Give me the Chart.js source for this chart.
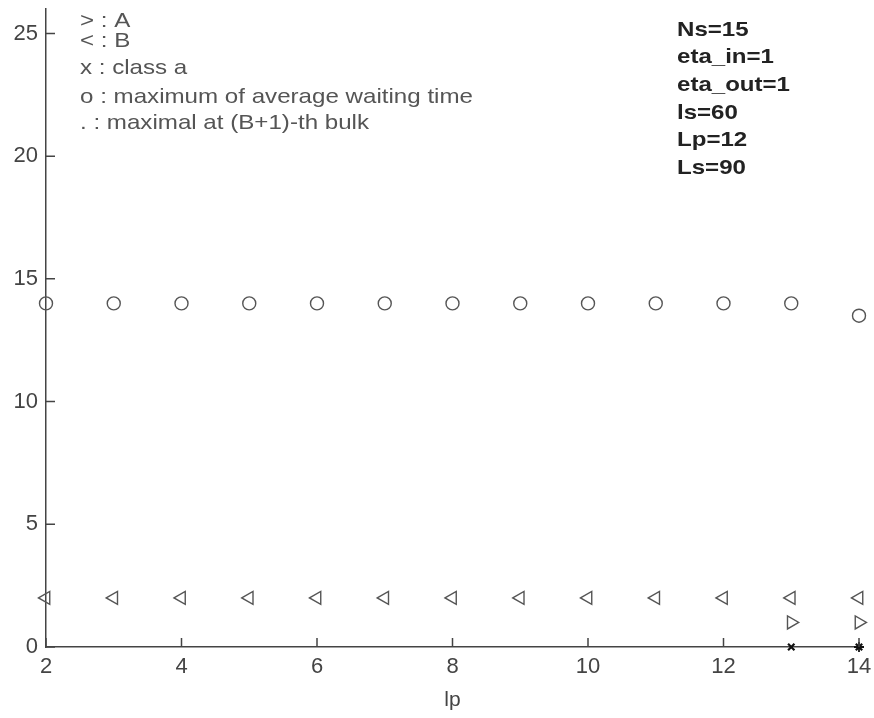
<!DOCTYPE html>
<html>
<head>
<meta charset="utf-8">
<script src="https://cdn.jsdelivr.net/npm/chart.js@4/dist/chart.umd.min.js"></script>
<style>
  body { margin: 0; background: #fff; }
  canvas { display: block; }
</style>
</head>
<body>
<canvas id="chart" width="874" height="718"></canvas>
<script>
// values
const lp = [2, 3, 4, 5, 6, 7, 8, 9, 10, 11, 12, 13, 14];
const maxWait = [14, 14, 14, 14, 14, 14, 14, 14, 14, 14, 14, 14, 13.5];
const seriesB = [2, 2, 2, 2, 2, 2, 2, 2, 2, 2, 2, 2, 2];
const seriesAx = [13, 14];
const seriesA = [1, 1];
const classAx = [13, 14];
const classA = [0, 0];
const bulkX = [14];
const bulkY = [0];

const xTicks = [2, 4, 6, 8, 10, 12, 14];
const yTicks = [0, 5, 10, 15, 20, 25];

const leftNotes = [
  "> : A",
  "< : B",
  "x : class a",
  "o : maximum of average waiting time",
  ". : maximal at (B+1)-th bulk",
];
const rightNotes = ["Ns=15", "eta_in=1", "eta_out=1", "ls=60", "Lp=12", "Ls=90"];

const gray = "#555";
const fontName = "'Liberation Sans', Arial, sans-serif";

function pts(xs, ys) {
  return xs.map((x, i) => ({ x: x, y: ys[i] }));
}

// little tick marks pointing into the plot, plus the text blocks
const extras = {
  id: "extras",
  afterDraw(chart) {
    const ctx = chart.ctx;
    const xs = chart.scales.x;
    const ys = chart.scales.y;
    const area = chart.chartArea;
    ctx.save();
    ctx.strokeStyle = "#444";
    ctx.lineWidth = 1.5;
    ctx.beginPath();
    xTicks.forEach((v) => {
      const px = xs.getPixelForValue(v);
      ctx.moveTo(px, area.bottom);
      ctx.lineTo(px, area.bottom - 9);
    });
    yTicks.forEach((v) => {
      const py = ys.getPixelForValue(v);
      ctx.moveTo(area.left, py);
      ctx.lineTo(area.left + 9, py);
    });
    ctx.stroke();

    ctx.fillStyle = "#555";
    ctx.textBaseline = "middle";
    ctx.font = "21px " + fontName;
    let sx = 393 / ctx.measureText(leftNotes[3]).width;
    const leftY = [21, 41, 68, 97, 123];
    leftNotes.forEach((t, i) => {
      ctx.save();
      ctx.translate(80, leftY[i]);
      ctx.scale(sx, 1);
      ctx.fillText(t, 0, 0);
      ctx.restore();
    });

    ctx.fillStyle = "#222";
    ctx.font = "bold 21px " + fontName;
    sx = 113 / ctx.measureText(rightNotes[2]).width;
    rightNotes.forEach((t, i) => {
      ctx.save();
      ctx.translate(677, 30 + i * 27.6);
      ctx.scale(sx, 1);
      ctx.fillText(t, 0, 0);
      ctx.restore();
    });
    ctx.restore();
  },
};

new Chart(document.getElementById("chart"), {
  type: "scatter",
  data: {
    datasets: [
      {
        label: "maximum of average waiting time",
        data: pts(lp, maxWait),
        pointStyle: "circle",
        pointRadius: 6.5,
        borderColor: gray,
        backgroundColor: "rgba(0,0,0,0)",
        borderWidth: 1.4,
        clip: false,
      },
      {
        label: "B",
        data: pts(lp, seriesB),
        pointStyle: "triangle",
        rotation: -90,
        pointRadius: 7.5,
        borderColor: gray,
        backgroundColor: "rgba(0,0,0,0)",
        borderWidth: 1.4,
        clip: false,
      },
      {
        label: "A",
        data: pts(seriesAx, seriesA),
        pointStyle: "triangle",
        rotation: 90,
        pointRadius: 7.5,
        borderColor: gray,
        backgroundColor: "rgba(0,0,0,0)",
        borderWidth: 1.4,
        clip: false,
      },
      {
        label: "class a",
        data: pts(classAx, classA),
        pointStyle: "crossRot",
        pointRadius: 4.5,
        borderColor: "#111",
        borderWidth: 2.2,
        clip: false,
      },
      {
        label: "maximal at (B+1)-th bulk",
        data: pts(bulkX, bulkY),
        pointStyle: "cross",
        pointRadius: 5,
        borderColor: "#111",
        borderWidth: 1.8,
        clip: false,
      },
    ],
  },
  options: {
    responsive: false,
    animation: false,
    layout: { padding: { top: 8, right: 15, left: 0, bottom: 0 } },
    plugins: {
      legend: { display: false },
      tooltip: { enabled: false },
    },
    scales: {
      x: {
        type: "linear",
        min: 2,
        max: 14,
        afterFit: (s) => { s.height = 71; s.paddingLeft = 0; s.paddingRight = 0; },
        afterBuildTicks: (s) => { s.ticks = xTicks.map((v) => ({ value: v })); },
        grid: { display: false, drawTicks: false },
        border: { display: true, color: "#444", width: 1.5 },
        ticks: { color: "#444", padding: 7, font: { family: fontName, size: 22 } },
        title: {
          display: true,
          text: "lp",
          color: "#444",
          padding: { top: 0, bottom: 5 },
          font: { family: fontName, size: 21 },
        },
      },
      y: {
        type: "linear",
        min: 0,
        max: 26,
        afterFit: (s) => { s.width = 46; s.paddingTop = 0; s.paddingBottom = 0; },
        afterBuildTicks: (s) => { s.ticks = yTicks.map((v) => ({ value: v })); },
        grid: { display: false, drawTicks: false },
        border: { display: true, color: "#444", width: 1.5 },
        ticks: { color: "#444", padding: 8, font: { family: fontName, size: 22 } },
      },
    },
  },
  plugins: [extras],
});
</script>
</body>
</html>
